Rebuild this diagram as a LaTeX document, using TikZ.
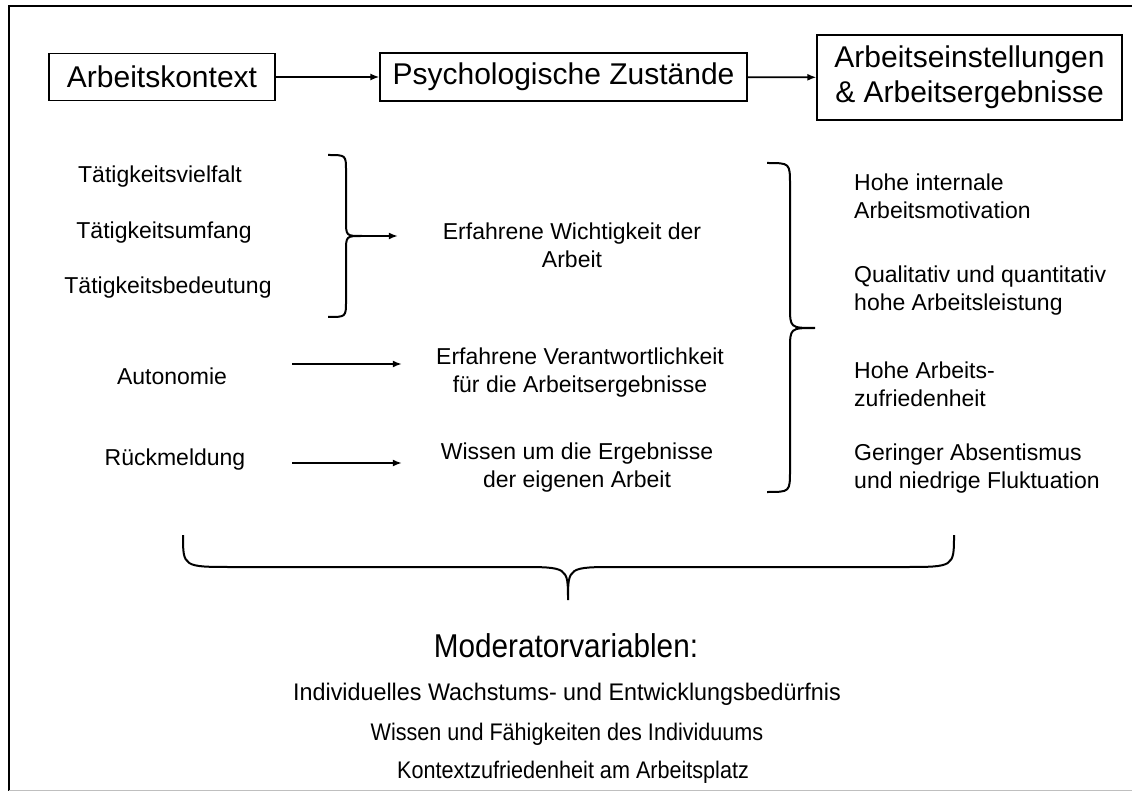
\documentclass[tikz,border=0pt]{standalone}
\usepackage{fontspec}
\setmainfont{Liberation Sans}
\newfontfamily\narrowsans[FakeStretch=0.9]{Liberation Sans}
\usetikzlibrary{arrows.meta}
\usetikzlibrary{positioning}

\begin{document}
\begin{tikzpicture}[x=1pt, y=-1pt,
    boxnode/.style={draw=black, line width=1.3pt, inner sep=0pt, align=center,
                    font=\fontsize{30}{35}\selectfont},
    textnode/.style={inner sep=0pt, align=center, font=\fontsize{23}{28}\selectfont},
    modnode/.style={inner sep=0pt, font=\narrowsans\fontsize{24}{28}\selectfont},
    curlbrace/.style={draw=black, line width=2pt},
    dot/.style={inner sep=0pt, minimum size=0pt}]
\useasboundingbox (0,0) rectangle (1132,791);
\draw [line width=2.5pt] (9,791) -- (9,6) -- (1132,6);
\draw [gray!50, line width=1pt] (9,790) -- (1132,790);

\begin{scope}[every node/.style={boxnode}]
    \node[minimum width=226, minimum height=47] (ctx) at (162,77) {Arbeitskontext};
    \node[minimum width=367, minimum height=48] (psy) at (563.5,77) {Psychologische Zustände};
    \node[minimum width=305, minimum height=85] (res) at (969.5,77.5) {Arbeitseinstellungen\\\& Arbeitsergebnisse};
\end{scope}

\begin{scope}[every node/.style={textnode}]
    \node (vielfalt) at (160,177) {Tätigkeitsvielfalt};
    \node (umfang) at (164,233) {Tätigkeitsumfang};
    \node (bedeutung) at (168,288) {Tätigkeitsbedeutung};
    \node (autonomie) at (172,376) {Autonomie};
    \node (rueck) at (175,460) {Rückmeldung};
    \node (wicht) at (572,245) {Erfahrene Wichtigkeit der\\Arbeit};
    \node (verant) at (580,373) {Erfahrene Verantwortlichkeit\\für die Arbeitsergebnisse};
    \node (wissen) at (577,468) {Wissen um die Ergebnisse\\der eigenen Arbeit};
\end{scope}

\begin{scope}[every node/.style={textnode, anchor=west, align=left}]
    \node (motiv) at (854,196) {Hohe internale\\Arbeitsmotivation};
    \node (leist) at (854,291) {Qualitativ und quantitativ\\hohe Arbeitsleistung};
    \node (zufr) at (854,384) {Hohe Arbeits-\\zufriedenheit};
    \node (absent) at (854,469) {Geringer Absentismus\\und niedrige Fluktuation};
\end{scope}

\begin{scope}[every node/.style={modnode}]
    \node[font=\narrowsans\fontsize{33}{38}\selectfont] (moder) at (566,646) {Moderatorvariablen:};
    \node (wachs) at (567,694) {\scalebox{1.08}[1]{Individuelles Wachstums- und Entwicklungsbedürfnis}};
    \node (faehig) at (567,734) {Wissen und Fähigkeiten des Individuums};
    \node (kontext) at (573,772) {Kontextzufriedenheit am Arbeitsplatz};
\end{scope}

\begin{scope}[curlbrace]
    \draw (328,155) .. controls (346,155) .. (346,171) -- (346,220)
          .. controls (346,236) .. (362,236) .. controls (346,236) .. (346,252)
          -- (346,301) .. controls (346,317) .. (328,317);
    \draw (767,163) .. controls (790,163) .. (790,185) -- (790,306)
          .. controls (790,328) .. (815,328) .. controls (790,328) .. (790,350)
          -- (790,470) .. controls (790,492) .. (767,492);
    \draw (183,535) .. controls (183,567) .. (233,567) -- (518,567)
          .. controls (568,567) .. (568,600) .. controls (568,567) .. (618,567)
          -- (904,567) .. controls (954,567) .. (954,535);
\end{scope}

\begin{scope}[every node/.style={dot}]
    \node (b1tip) at (362,236) {};
    \node (b1end) at (398,236) {};
    \node (aut1) at (292,364) {};
    \node (aut2) at (402,364) {};
    \node (rm1) at (292,463) {};
    \node (rm2) at (402,463) {};
\end{scope}

\begin{scope}[>={Latex[length=9pt, width=7pt]},
              every edge/.style={draw=black, line width=1.6pt}]
    \path [->] (ctx) edge (psy);
    \path [->] (psy) edge (res);
    \path [->] (b1tip) edge (b1end);
    \path [->] (aut1) edge (aut2);
    \path [->] (rm1) edge (rm2);
\end{scope}

\end{tikzpicture}
\end{document}
